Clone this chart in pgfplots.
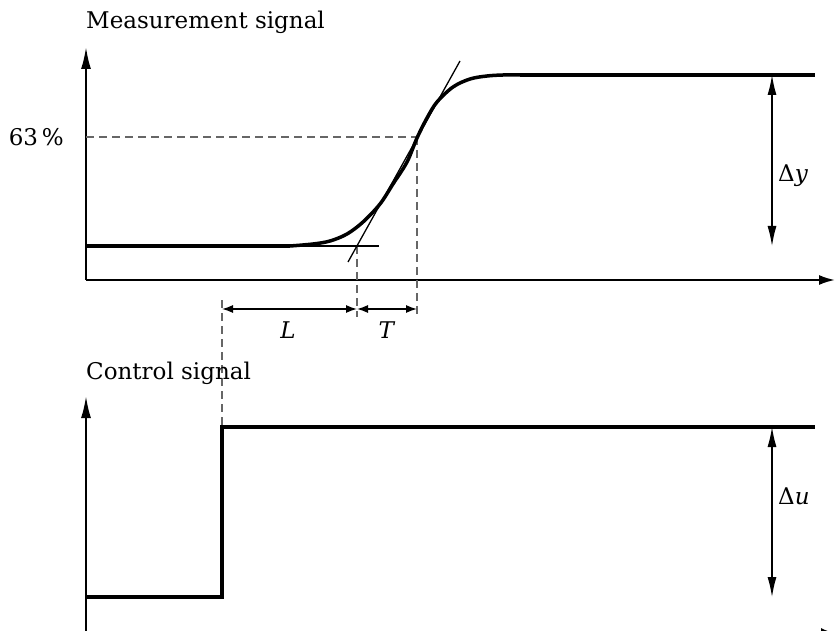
\documentclass[border=0pt]{standalone}
\usepackage{fontspec}
\setmainfont{DejaVu Serif}
\usepackage{pgfplots}
\pgfplotsset{compat=1.18}
\usetikzlibrary{arrows.meta}

\begin{document}
\begin{tikzpicture}[lbl/.style={font=\fontsize{23}{27}\selectfont}]
\begin{axis}[
  scale only axis, width=835pt, height=630pt,
  xmin=0, xmax=835, ymin=0, ymax=630,
  hide axis, clip=true,
]
% axes
\addplot[line width=2pt, -{Latex[length=22pt,width=10pt]}] coordinates {(86,350)(86,583)};
\addplot[line width=2pt, -{Latex[length=16pt,width=10pt]}] coordinates {(86,350)(835,350)};
\addplot[line width=2pt, -{Latex[length=22pt,width=10pt]}] coordinates {(86,-5)(86,234)};
\addplot[line width=2pt, -{Latex[length=14pt,width=10pt]}] coordinates {(86,-3)(835,-3)};

% dashed guides
\addplot[gray!80!black, line width=1.1pt, dash pattern=on 8pt off 5pt] coordinates {(86,493)(417,493)};
\addplot[gray!80!black, line width=1.1pt, dash pattern=on 8pt off 5pt] coordinates {(417,493)(417,313)};
\addplot[gray!80!black, line width=1.1pt, dash pattern=on 8pt off 5pt] coordinates {(357,384)(357,313)};
\addplot[gray!80!black, line width=1.1pt, dash pattern=on 8pt off 5pt] coordinates {(222,330)(222,203)};

% tangent and baseline extension
\addplot[line width=1.3pt] coordinates {(348,368)(460,569)};
\addplot[line width=1.7pt] coordinates {(290,384)(379,384)};

% measurement signal
\addplot[line width=3.5pt] coordinates {(86,384)(290,384)};
\addplot[line width=3.5pt, smooth, tension=0.55] coordinates {
  (290,384)(313,386)(330,389)(347,396)(363,408)(380,426)(393,446)
  (407,468)(417,492)(427,512)(437,528)(453,543)(470,551)(487,554)(503,555)(520,555)};
\addplot[line width=3.5pt] coordinates {(520,555)(815,555)};

% control signal
\addplot[line width=3.5pt] coordinates {(86,33)(222,33)(222,203)(815,203)};

% measures
\addplot[line width=1.3pt, {Latex[length=11pt,width=8pt]}-{Latex[length=11pt,width=8pt]}] coordinates {(222,321)(357,321)};
\addplot[line width=1.3pt, {Latex[length=11pt,width=8pt]}-{Latex[length=11pt,width=8pt]}] coordinates {(357,321)(417,321)};
\addplot[line width=1.3pt, {Latex[length=20pt,width=9pt]}-{Latex[length=20pt,width=9pt]}] coordinates {(772,555)(772,384)};
\addplot[line width=1.3pt, {Latex[length=20pt,width=9pt]}-{Latex[length=20pt,width=9pt]}] coordinates {(772,203)(772,33)};

% labels
\node[lbl, anchor=base west, inner xsep=0pt] at (axis cs:86,601) {Measurement signal};
\node[lbl, anchor=base west, inner xsep=0pt] at (axis cs:86,251) {Control signal};
\node[lbl, anchor=base east, inner xsep=0pt] at (axis cs:64,484) {63\,\%};
\node[lbl, anchor=base] at (axis cs:288,292) {\textit{L}};
\node[lbl, anchor=base] at (axis cs:387,292) {\textit{T}};
\node[lbl, anchor=base west, inner xsep=0pt] at (axis cs:778,448) {Δ\textit{y}};
\node[lbl, anchor=base west, inner xsep=0pt] at (axis cs:778,126) {Δ\textit{u}};

\coordinate (ll) at (axis cs:0,0);
\coordinate (ur) at (axis cs:835,630);
\end{axis}
\pgfresetboundingbox
\useasboundingbox (ll) rectangle (ur);
\end{tikzpicture}
\end{document}
